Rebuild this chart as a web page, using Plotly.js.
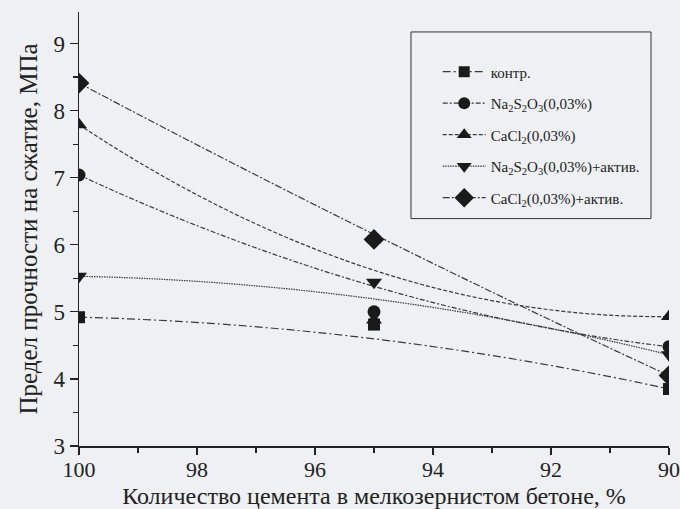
<!DOCTYPE html>
<html>
<head>
<meta charset="utf-8">
<script src="https://cdn.plot.ly/plotly-3.0.1.min.js"></script>
<style>html,body{margin:0;padding:0;background:#eef0f3;}#chart{width:680px;height:509px;}</style>
</head>
<body>
<div id="chart"></div>
<script>
// Data
const cement = [100, 95, 90];
const kontr = [4.92, 4.81, 3.85];
const na2s2o3 = [7.04, 5.0, 4.48];
const cacl2 = [7.79, 4.88, 4.93];
const na2s2o3Act = [5.53, 5.44, 4.36];
const cacl2Act = [8.41, 6.08, 4.05];

const seriesNames = [
  'контр.',
  'Na<sub>2</sub>S<sub>2</sub>O<sub>3</sub>(0,03%)',
  'CaCl<sub>2</sub>(0,03%)',
  'Na<sub>2</sub>S<sub>2</sub>O<sub>3</sub>(0,03%)+актив.',
  'CaCl<sub>2</sub>(0,03%)+актив.'
];
const seriesValues = [kontr, na2s2o3, cacl2, na2s2o3Act, cacl2Act];
const symbols = ['square', 'circle', 'triangle-up', 'triangle-down', 'diamond'];
const sizes = [12, 13, 14, 14, 16];
const dashes = ['8px,3px,2px,3px', '5px,2px,2px,2px', '4px,2px', '1.5px,1px', '7px,2px,2px,2px'];

const ink = '#1a1a1a';
const lineCol = '#3a3a3a';
const traces = [];
const shapes = [];

seriesValues.forEach((vals, i) => {
  traces.push({
    x: cement, y: vals, type: 'scatter', mode: 'markers',
    marker: {symbol: symbols[i], size: sizes[i], color: ink},
    showlegend: false, cliponaxis: true, hoverinfo: 'x+y'
  });
  traces.push({
    x: [null], y: [null], type: 'scatter', mode: 'lines+markers',
    name: seriesNames[i], legendgroup: 'g' + i,
    line: {color: lineCol, width: 1.2, dash: dashes[i]},
    marker: {symbol: symbols[i], size: sizes[i] - 1, color: ink}
  });
  shapes.push({
    type: 'path', xref: 'x', yref: 'y', layer: 'below',
    path: 'M ' + cement[0] + ',' + vals[0] + ' Q ' + cement[1] + ',' + vals[1] + ' ' + cement[2] + ',' + vals[2],
    line: {color: lineCol, width: 1.2, dash: dashes[i]}
  });
});

shapes.push({
  type: 'rect', xref: 'paper', yref: 'paper',
  x0: 0.5627, x1: 0.9695, y0: 0.524, y1: 0.954,
  line: {color: '#333', width: 1}, fillcolor: 'rgba(0,0,0,0)'
});

const font = '"Liberation Serif", "Times New Roman", serif';
const layout = {
  width: 680, height: 509,
  margin: {l: 79, r: 11, t: 12, b: 63},
  paper_bgcolor: '#eef0f3', plot_bgcolor: '#eef0f3',
  font: {family: font, color: '#222', size: 21},
  showlegend: true,
  legend: {
    x: 0.608, y: 0.9, xanchor: 'left', yanchor: 'top',
    bgcolor: 'rgba(0,0,0,0)', borderwidth: 0,
    font: {family: font, size: 15, color: '#222'},
    itemwidth: 43,
    tracegroupgap: 9
  },
  xaxis: {
    range: [100, 90], autorange: false,
    tickmode: 'linear', tick0: 90, dtick: 2,
    ticks: 'outside', ticklen: 7, tickwidth: 1.2, tickcolor: '#222',
    minor: {dtick: 1, ticks: 'outside', ticklen: 5, tickwidth: 1.2, tickcolor: '#222', showgrid: false},
    showline: true, linecolor: '#222', linewidth: 1.5,
    showgrid: false, zeroline: false,
    ticklabeloverflow: 'allow',
    ticklabelstandoff: -4,
    tickfont: {family: font, size: 22, color: '#222'},
    title: {text: 'Количество цемента в мелкозернистом бетоне, %', font: {family: font, size: 24, color: '#222'}, standoff: 6}
  },
  yaxis: {
    range: [3, 9.47], autorange: false,
    tickmode: 'linear', tick0: 3, dtick: 1,
    ticks: 'outside', ticklen: 8, tickwidth: 1.2, tickcolor: '#222',
    minor: {dtick: 0.5, ticks: 'outside', ticklen: 5, tickwidth: 1.2, tickcolor: '#222', showgrid: false},
    showline: true, linecolor: '#222', linewidth: 1.5,
    showgrid: false, zeroline: false,
    tickfont: {family: font, size: 23, color: '#222'},
    title: {text: 'Предел прочности на сжатие, МПа', font: {family: font, size: 25, color: '#222'}, standoff: 8}
  },
  shapes: shapes
};

Plotly.newPlot('chart', traces, layout, {displayModeBar: false, staticPlot: true});
</script>
</body>
</html>
